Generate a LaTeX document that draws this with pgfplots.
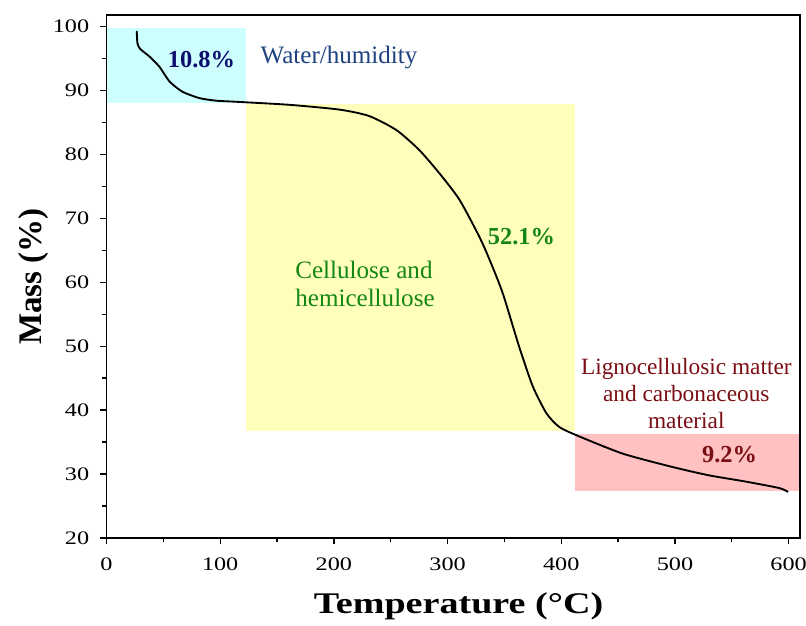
\documentclass[border=0pt]{standalone}
\usepackage{fontspec}
\setmainfont{Liberation Serif}
\newfontfamily\widefont{Liberation Serif}[FakeStretch=1.27]
\usepackage{pgfplots}
\pgfplotsset{compat=1.18}

\definecolor{humidfill}{RGB}{206,255,255}
\definecolor{cellfill}{RGB}{255,255,187}
\definecolor{ligfill}{RGB}{255,193,193}
\definecolor{navytxt}{RGB}{14,14,110}
\definecolor{bluetxt}{RGB}{30,66,128}
\definecolor{greentxt}{RGB}{20,135,20}
\definecolor{redtxt}{RGB}{122,14,20}

% mass loss curve (temperature in C, residual mass in %)
\pgfplotstableread{
T     m
26.6  99.3
27.2  97.4
29.6  96.5
37.8  95.3
46.6  93.7
55.4  91.4
66.8  89.8
81.8  88.8
96.5  88.4
117   88.2
161   87.75
205   87.0
231   86.0
255   83.8
275   80.7
293   77.0
310.5 72.9
328   67.1
337   63.5
348.5 58.3
363   49.9
375   43.7
387   39.5
398   37.4
413   36.1
454   33.2
498   31.1
530   29.8
563   28.8
592   27.8
599.5 27.2
}\tgacurve

\begin{document}
\begin{tikzpicture}
\useasboundingbox (-79.875pt,-65.25pt) rectangle (524.625pt,403.5pt);
\begin{axis}[
  scale only axis,
  width=520.125pt, height=392.25pt,
  xmin=0, xmax=610, ymin=20, ymax=101.8,
  xtick={0,100,...,600}, ytick={20,30,...,100},
  minor x tick num=1, minor y tick num=1,
  tick pos=left, tick align=outside,
  major tick length=4.5pt, minor tick length=3pt,
  axis line style={line width=1.3pt},
  every tick/.style={black, line width=1pt},
  /pgf/number format/assume math mode=true,
  ticklabel style={font=\widefont\fontsize{14.3}{16}\selectfont},
  xticklabel style={yshift=-7pt},
  yticklabel style={xshift=-5pt},
  xlabel={Temperature (°C)},
  ylabel={Mass (\%)},
  xlabel style={at={(rel axis cs:0.5077,-0.144)}, anchor=base,
    font=\widefont\bfseries\fontsize{22.5}{26}\selectfont},
  ylabel style={at={(rel axis cs:-0.0934,0.5)}, anchor=base,
    font=\bfseries\fontsize{24.75}{28}\selectfont},
  clip=false,
  axis on top,
]
% stage regions
\addplot[draw=none, fill=humidfill] coordinates {(0,88.1) (0,99.8) (123,99.8) (123,88.1)} -- cycle;
\addplot[draw=none, fill=cellfill] coordinates {(123,36.7) (123,87.9) (412.5,87.9) (412.5,36.7)} -- cycle;
\addplot[draw=none, fill=ligfill] coordinates {(412.5,27.3) (412.5,36.3) (610,36.3) (610,27.3)} -- cycle;

\addplot[black, line width=1.4pt, smooth, tension=0.4] table[x=T, y=m] {\tgacurve};

\node[text=navytxt, font=\bfseries\fontsize{18.3}{20}\selectfont] at (axis cs:83.5,94.8) {10.8\%};
\node[text=bluetxt, anchor=west, font=\fontsize{18.8}{20}\selectfont] at (axis cs:131.5,95.1) {Water/humidity};
\node[text=greentxt, anchor=west, align=left, font=\fontsize{18.8}{21}\selectfont] at (axis cs:162,59.7) {Cellulose and\\hemicellulose};
\node[text=greentxt, font=\bfseries\fontsize{18.3}{20}\selectfont] at (axis cs:365,67.1) {52.1\%};
\node[text=redtxt, align=center, font=\fontsize{17.5}{20.25}\selectfont] at (axis cs:510,42.6) {Lignocellulosic matter\\and carbonaceous\\material};
\node[text=redtxt, font=\bfseries\fontsize{18.3}{20}\selectfont] at (axis cs:548,33.0) {9.2\%};
\end{axis}
\end{tikzpicture}
\end{document}
